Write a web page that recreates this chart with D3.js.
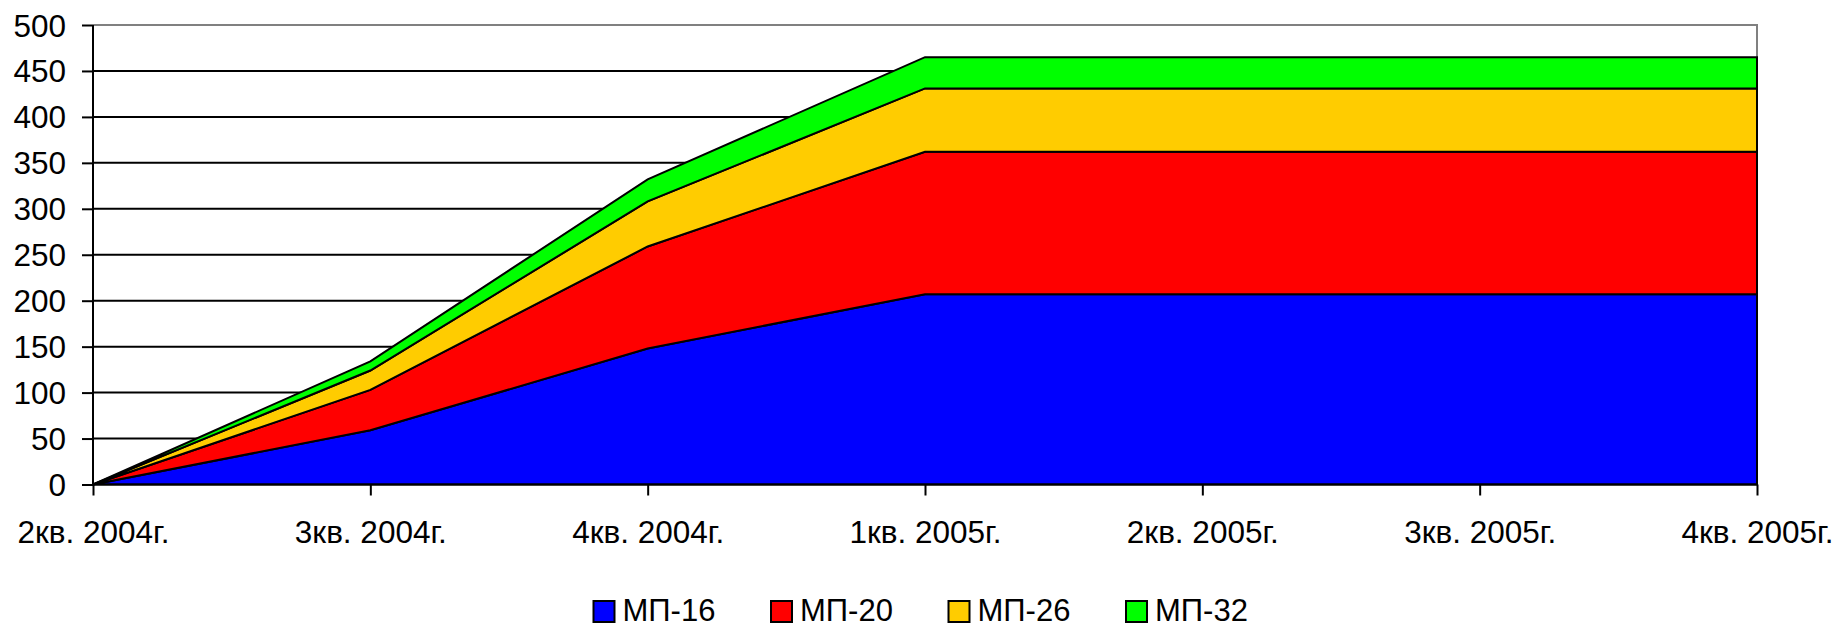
<!DOCTYPE html>
<html>
<head>
<meta charset="utf-8">
<script src="https://cdn.jsdelivr.net/npm/d3@7"></script>
<style>
  html, body { margin: 0; padding: 0; background: #fff; }
  svg { display: block; font-family: "Liberation Sans", Arial, sans-serif; }
  .tick text { font-size: 31.5px; fill: #000; }
</style>
</head>
<body>
<svg id="chart" width="1840" height="627"></svg>
<script>
// Data
const quarters = ['2кв. 2004г.', '3кв. 2004г.', '4кв. 2004г.', '1кв. 2005г.', '2кв. 2005г.', '3кв. 2005г.', '4кв. 2005г.'];
const seriesNames = ['МП-16', 'МП-20', 'МП-26', 'МП-32'];
const mp16 = [0, 59, 148, 207, 207, 207, 207];
const mp20 = [0, 44, 111, 155, 155, 155, 155];
const mp26 = [0, 21, 49, 69, 69, 69, 69];
const mp32 = [0, 10, 24, 34, 34, 34, 34];
const yTicks = [0, 50, 100, 150, 200, 250, 300, 350, 400, 450, 500];

const COLORS = ['#0000ff', '#ff0000', '#ffcc00', '#00ff00'];

// Layout
const plot = { left: 93, right: 1757, top: 25, bottom: 484.5 };

const svg = d3.select('#chart');

const x = d3.scalePoint().domain(quarters).range([plot.left, plot.right]);
const y = d3.scaleLinear().domain([0, 500]).range([plot.bottom, plot.top]);

// rows for stacking
const rows = quarters.map((q, i) => ({
  q, 'МП-16': mp16[i], 'МП-20': mp20[i], 'МП-26': mp26[i], 'МП-32': mp32[i]
}));
const stacked = d3.stack().keys(seriesNames)(rows);

// Gridlines (behind areas)
svg.append('g')
  .selectAll('line')
  .data(yTicks.filter(t => t > 0 && t < 500))
  .join('line')
  .attr('x1', plot.left).attr('x2', plot.right)
  .attr('y1', d => y(d)).attr('y2', d => y(d))
  .attr('stroke', '#000').attr('stroke-width', 2);

// Plot border top + right (gray)
svg.append('path')
  .attr('d', `M${plot.left},${plot.top}H${plot.right}V${plot.bottom}`)
  .attr('fill', 'none')
  .attr('stroke', '#808080')
  .attr('stroke-width', 2);

// Areas
const area = d3.area()
  .x(d => x(d.data.q))
  .y0(d => y(d[0]))
  .y1(d => y(d[1]));

svg.append('g')
  .selectAll('path')
  .data(stacked)
  .join('path')
  .attr('d', area)
  .attr('fill', (d, i) => COLORS[i])
  .attr('stroke', '#000')
  .attr('stroke-width', 2)
  .attr('stroke-linejoin', 'miter');

// Y axis
const yAxis = svg.append('g')
  .attr('transform', `translate(${plot.left},0)`)
  .call(d3.axisLeft(y).tickValues(yTicks).tickSize(11).tickPadding(16));
yAxis.selectAll('line, path').attr('stroke', '#000').attr('stroke-width', 2);
yAxis.select('.domain').attr('d', `M0,${plot.top}V${plot.bottom}`);
yAxis.selectAll('text').attr('font-family', null).attr('font-size', null).attr('dy', '0.35em');

// X axis
const xAxis = svg.append('g')
  .attr('transform', `translate(0,${plot.bottom})`)
  .call(d3.axisBottom(x).tickSize(11).tickPadding(0));
xAxis.selectAll('line, path').attr('stroke', '#000').attr('stroke-width', 2);
xAxis.select('.domain').attr('d', `M${plot.left},0H${plot.right}`);
xAxis.selectAll('text').attr('font-family', null).attr('font-size', null)
  .attr('y', 58.5).attr('dy', null);

// Legend
const legend = svg.append('g');
const legendItem = legend.selectAll('g')
  .data(seriesNames)
  .join('g')
  .attr('transform', (d, i) => `translate(${593.5 + i * 177.5},601)`);

legendItem.append('rect')
  .attr('width', 21).attr('height', 21)
  .attr('fill', (d, i) => COLORS[i])
  .attr('stroke', '#000')
  .attr('stroke-width', 2);

legendItem.append('text')
  .attr('x', 29).attr('y', 19.5)
  .attr('font-size', 31)
  .text(d => d);
</script>
</body>
</html>
